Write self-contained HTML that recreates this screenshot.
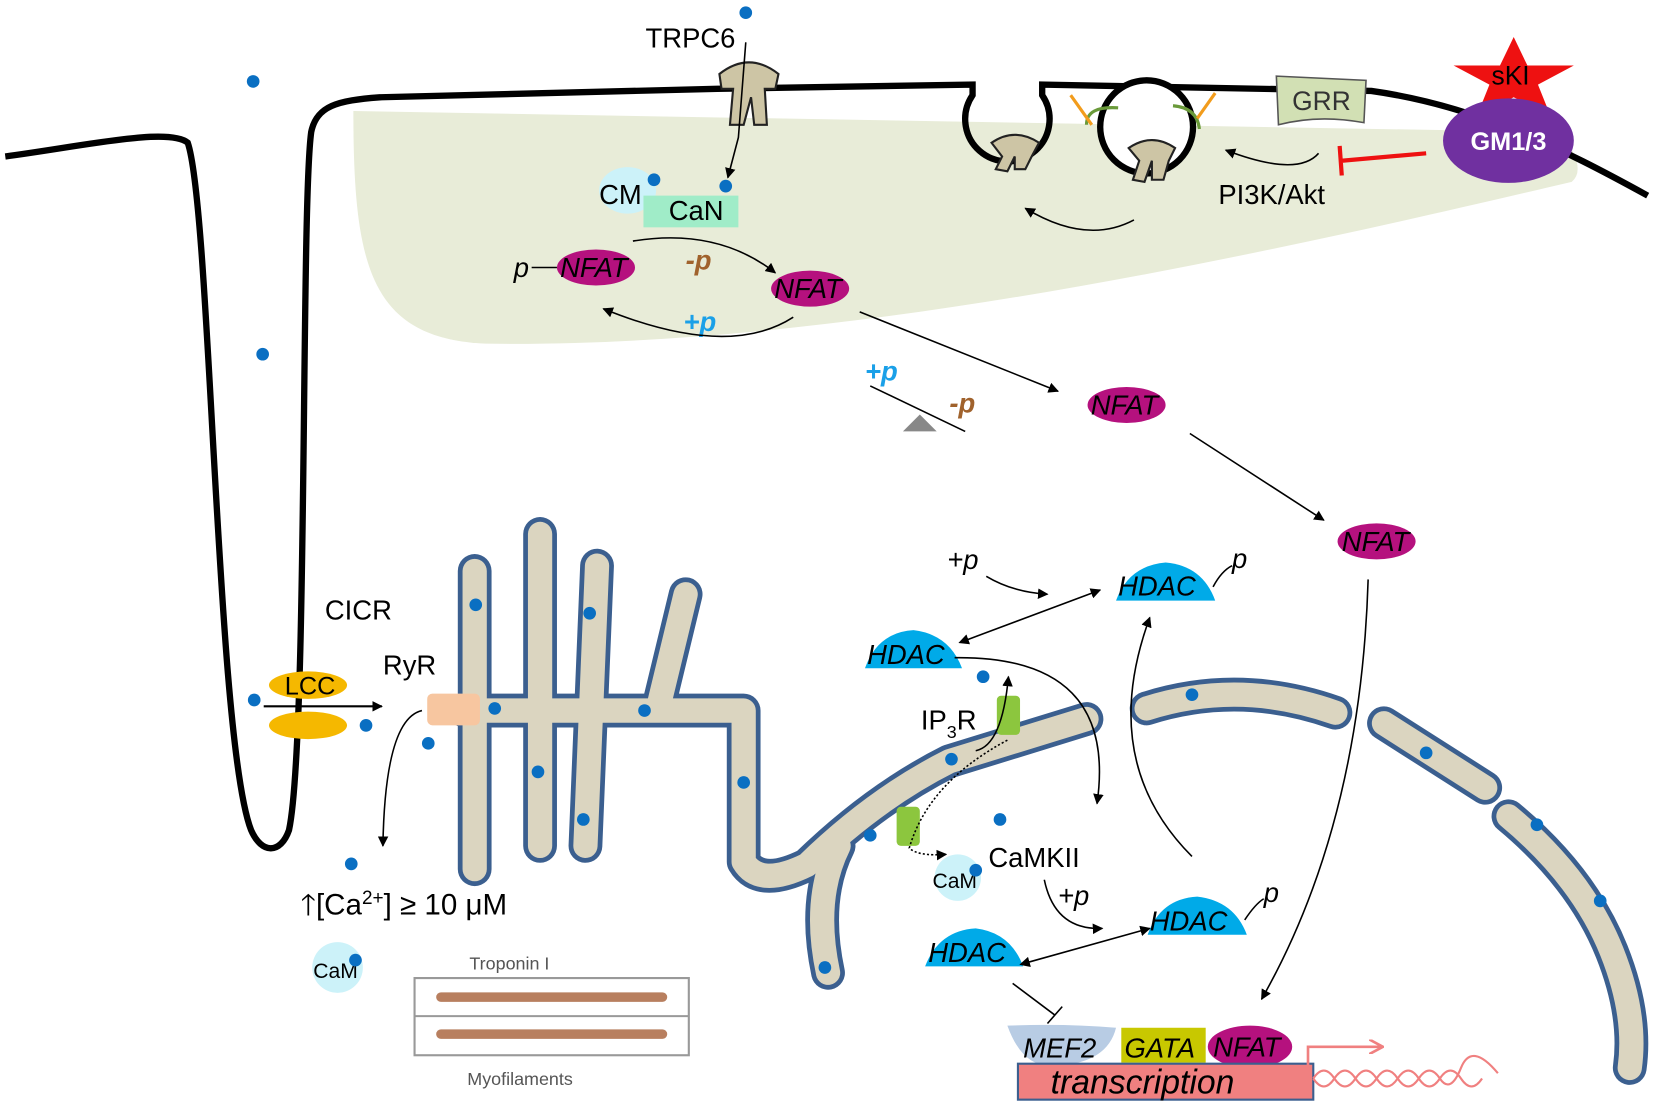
<!DOCTYPE html>
<html><head><meta charset="utf-8"><style>html,body{margin:0;padding:0;background:#fff}svg{display:block}text{font-family:"Liberation Sans",sans-serif}</style></head><body>
<svg width="1654" height="1106" viewBox="0 0 1568 1046" preserveAspectRatio="none" xmlns="http://www.w3.org/2000/svg">
<defs>
<marker id="a" markerWidth="10" markerHeight="10" refX="9" refY="5" orient="auto" markerUnits="userSpaceOnUse"><path d="M0,0 L10,5 L0,10z" fill="#000"/></marker>
<marker id="as" markerWidth="10" markerHeight="10" refX="1" refY="5" orient="auto-start-reverse" markerUnits="userSpaceOnUse"><path d="M0,0 L10,5 L0,10z" fill="#000"/></marker>
<marker id="ap" markerWidth="14" markerHeight="14" refX="12" refY="7" orient="auto" markerUnits="userSpaceOnUse"><path d="M0,0 L13,7 L0,14" fill="none" stroke="#f08080" stroke-width="2.5"/></marker>
</defs>
<!-- cytosol region -->
<path d="M335,105 L1480,125 Q1505,160 1490,172 C1200,240 800,330 460,325 C350,320 335,250 335,105Z" fill="#e8ecd8"/>
<!-- membrane -->
<path d="M5,148 C80,138 160,120 178,135 C200,200 205,700 238,785 C248,808 266,808 274,785 C292,700 285,200 295,125 C300,100 320,95 360,92 L680,84 L922,80 L922,90 A40,40 0 1 0 988,90 L988,80 L1300,86 C1400,100 1480,140 1562,185" fill="none" stroke="#000" stroke-width="6"/>
<circle cx="1087" cy="120" r="44" fill="#fff" stroke="#000" stroke-width="6"/>
<path d="M1030,118 Q1030,100 1060,102 M1112,100 Q1135,102 1137,122" fill="none" stroke="#6a9a3a" stroke-width="3"/>
<path d="M1015,90 L1035,118 M1152,88 L1135,112" stroke="#f29c1c" stroke-width="3"/>
<!-- channels -->
<g fill="#cdc5a5" stroke="#222" stroke-width="2">
<path d="M682,70 Q710,48 738,70 L735,84 L725,84 L727,118 L715,118 L712,92 L705,118 L692,118 L695,84 L684,84Z"/>
<path d="M940,135 Q962,120 985,135 L978,148 L972,160 L962,160 L962,148 L955,162 L944,160 L950,148Z"/>
<path d="M1070,140 Q1092,125 1114,140 L1108,152 L1103,170 L1092,170 L1092,152 L1085,172 L1074,170 L1080,152Z"/>
</g>
<!-- GRR, GM1, sKI -->
<path d="M1210,72 L1295,76 L1293,116 Q1250,108 1212,118Z" fill="#d2e0b4" stroke="#555" stroke-width="1.5"/>
<text x="1225" y="104" font-size="25" fill="#333">GRR</text>
<polygon points="1435,35 1448,62 1492,62 1458,80 1470,110 1435,92 1400,110 1412,80 1378,62 1422,62" fill="#ee1111"/>
<text x="1414" y="80" font-size="25">sKI</text>
<ellipse cx="1430" cy="133" rx="62" ry="40" fill="#7030a0"/>
<text x="1430" y="142" font-size="24" font-weight="bold" fill="#fff" text-anchor="middle">GM1/3</text>
<path d="M1352,145 L1272,152 M1270,138 L1272,166" stroke="#ee1111" stroke-width="4" fill="none"/>
<path d="M1250,145 Q1230,168 1162,142" fill="none" stroke="#000" stroke-width="1.5" marker-end="url(#a)"/>
<text x="1155" y="193" font-size="26">PI3K/Akt</text>
<path d="M1075,208 Q1030,232 972,197" fill="none" stroke="#000" stroke-width="1.5" marker-end="url(#a)"/>
<!-- TRPC6 -->
<text x="612" y="45" font-size="26">TRPC6</text>
<path d="M707,40 L700,130 L690,168" fill="none" stroke="#000" stroke-width="1.5" marker-end="url(#a)"/>
<ellipse cx="595" cy="180" rx="27" ry="22" fill="#ccf2f9"/>
<rect x="610" y="185" width="90" height="30" fill="#a0ecc8"/>
<text x="568" y="193" font-size="26">CM</text>
<text x="634" y="208" font-size="26">CaN</text>
<!-- NFATs -->
<g fill="#b5117e">
<ellipse cx="565" cy="253" rx="37" ry="17"/><ellipse cx="768" cy="273" rx="37" ry="17"/>
<ellipse cx="1068" cy="383" rx="37" ry="17"/><ellipse cx="1305" cy="512" rx="37" ry="17"/>
<ellipse cx="1185" cy="990" rx="40" ry="20"/>
</g>
<g font-size="26" font-style="italic">
<text x="531" y="262">NFAT</text><text x="734" y="282">NFAT</text>
<text x="1034" y="392">NFAT</text><text x="1272" y="521">NFAT</text>
<text x="1150" y="999">NFAT</text>
<text x="487" y="262">p</text>
</g>
<line x1="504" y1="253" x2="528" y2="253" stroke="#000" stroke-width="1.5"/>
<text x="650" y="255" font-size="26" font-style="italic" font-weight="bold" fill="#a0622c">-p</text>
<text x="648" y="313" font-size="26" font-style="italic" font-weight="bold" fill="#1aa0e8">+p</text>
<text x="820" y="360" font-size="26" font-style="italic" font-weight="bold" fill="#1aa0e8">+p</text>
<text x="900" y="390" font-size="26" font-style="italic" font-weight="bold" fill="#a0622c">-p</text>
<line x1="825" y1="365" x2="915" y2="408" stroke="#000" stroke-width="1.5"/>
<polygon points="872,392 856,408 888,408" fill="#888"/>
<g fill="none" stroke="#000" stroke-width="1.5">
<path d="M600,228 Q680,215 735,258" marker-end="url(#a)"/>
<path d="M752,300 Q690,340 572,292" marker-end="url(#a)"/>
<path d="M815,295 L1003,370" marker-end="url(#a)"/>
<path d="M1128,410 L1255,492" marker-end="url(#a)"/>
<path d="M1297,548 Q1290,780 1196,945" marker-end="url(#a)"/>
</g>
<!-- ER tubes -->
<g fill="none" stroke-linecap="round" stroke-linejoin="round">
<g stroke="#3b5f8f" stroke-width="32">
<path d="M450,540 L450,822 M512,505 L512,800 M566,535 L555,800 M650,562 L625,665 M440,672 L705,672 L705,815 Q720,840 765,818 Q830,755 900,720 L1030,680 M795,800 Q770,850 785,920 M1087,670 Q1175,642 1266,674 M1312,684 L1408,745 M1430,772 Q1500,830 1528,900 Q1552,960 1545,1010"/>
</g>
<g stroke="#dbd5c0" stroke-width="23">
<path d="M450,540 L450,822 M512,505 L512,800 M566,535 L555,800 M650,562 L625,665 M440,672 L705,672 L705,815 Q720,840 765,818 Q830,755 900,720 L1030,680 M795,800 Q770,850 785,920 M1087,670 Q1175,642 1266,674 M1312,684 L1408,745 M1430,772 Q1500,830 1528,900 Q1552,960 1545,1010"/>
</g>
</g>
<!-- LCC, RyR -->
<ellipse cx="292" cy="648" rx="37" ry="13" fill="#f5b800"/>
<ellipse cx="292" cy="686" rx="37" ry="13" fill="#f5b800"/>
<text x="270" y="657" font-size="24">LCC</text>
<rect x="405" y="656" width="50" height="30" rx="5" fill="#f7c6a0"/>
<line x1="250" y1="668" x2="362" y2="668" stroke="#000" stroke-width="2" marker-end="url(#a)"/>
<path d="M400,672 Q365,680 363,800" fill="none" stroke="#000" stroke-width="1.5" marker-end="url(#a)"/>
<text x="308" y="586" font-size="26">CICR</text>
<text x="363" y="638" font-size="26">RyR</text>
<text x="285" y="865" font-size="28">🡑[Ca<tspan font-size="18" dy="-10">2+</tspan><tspan dy="10">]  ≥ 10 μM</tspan></text>
<circle cx="320" cy="915" r="24" fill="#ccf2f9"/><text x="297" y="925" font-size="20">CaM</text>
<!-- troponin -->
<rect x="393" y="925" width="260" height="73" fill="#fff" stroke="#999" stroke-width="2"/>
<line x1="393" y1="961" x2="653" y2="961" stroke="#999" stroke-width="2"/>
<line x1="418" y1="943" x2="628" y2="943" stroke="#b87f5f" stroke-width="9" stroke-linecap="round"/>
<line x1="418" y1="978" x2="628" y2="978" stroke="#b87f5f" stroke-width="9" stroke-linecap="round"/>
<text x="445" y="917" font-size="17" fill="#555">Troponin I</text>
<text x="443" y="1026" font-size="17" fill="#555">Myofilaments</text>
<!-- IP3R -->
<rect x="945" y="658" width="22" height="37" rx="4" fill="#8cc63e"/>
<rect x="850" y="763" width="22" height="37" rx="4" fill="#8cc63e"/>
<text x="873" y="690" font-size="26">IP<tspan font-size="17" dy="8">3</tspan><tspan dy="-8">R</tspan></text>
<text x="937" y="820" font-size="26">CaMKII</text>
<circle cx="908" cy="830" r="22" fill="#ccf2f9"/><text x="884" y="840" font-size="20">CaM</text>
<path d="M955,700 Q880,740 862,802 Q870,810 897,808" fill="none" stroke="#000" stroke-width="1.5" stroke-dasharray="2,2" marker-end="url(#a)"/>
<path d="M925,710 Q950,705 956,640" fill="none" stroke="#000" stroke-width="1.5" marker-end="url(#a)"/>
<!-- HDACs -->
<g fill="#00aae8">
<path d="M1058,568 Q1070,535 1105,532 Q1140,535 1152,568Z"/>
<path d="M820,632 Q832,598 866,596 Q900,600 912,632Z"/>
<path d="M1088,884 Q1100,850 1135,848 Q1170,852 1182,884Z"/>
<path d="M877,914 Q890,880 925,878 Q958,882 970,914Z"/>
</g>
<g font-size="26" font-style="italic">
<text x="1060" y="563">HDAC</text><text x="822" y="628">HDAC</text>
<text x="1090" y="880">HDAC</text><text x="880" y="910">HDAC</text>
<text x="1168" y="537">p</text><text x="1198" y="853">p</text>
<text x="898" y="538">+p</text><text x="1003" y="856">+p</text>
</g>
<path d="M1150,555 Q1158,540 1168,535 M1180,870 Q1190,855 1198,850" fill="none" stroke="#000" stroke-width="1.5"/>
<g fill="none" stroke="#000" stroke-width="1.5">
<path d="M935,545 Q960,560 993,562" marker-end="url(#a)"/>
<path d="M917,605 L1043,558" marker-start="url(#as)" marker-end="url(#a)"/>
<path d="M905,622 Q1060,620 1040,760" marker-end="url(#a)"/>
<path d="M1130,810 Q1040,720 1090,584" marker-end="url(#a)"/>
<path d="M990,832 Q1000,880 1045,878" marker-end="url(#a)"/>
<path d="M975,910 L1090,878" marker-start="url(#as)" marker-end="url(#a)"/>
<path d="M960,930 L1000,960 M993,968 L1007,952"/>
</g>
<!-- transcription -->
<path d="M955,970 Q970,1012 1002,1008 Q1050,1005 1058,972 Q1010,968 955,970Z" fill="#b8cce4"/>
<rect x="1063" y="972" width="80" height="33" fill="#c8c800"/>
<text x="970" y="1000" font-size="26" font-style="italic">MEF2</text>
<text x="1066" y="1000" font-size="26" font-style="italic">GATA</text>
<rect x="965" y="1006" width="280" height="34" fill="#f08080" stroke="#3b5f8f" stroke-width="2"/>
<text x="996" y="1034" font-size="32" font-style="italic">transcription</text>
<path d="M1240,1010 L1240,990 L1310,990" fill="none" stroke="#f08080" stroke-width="2.5" marker-end="url(#ap)"/>
<path d="M1245,1020 Q1255,1005 1265,1020 T1285,1020 T1305,1020 T1325,1020 T1345,1020 T1365,1020 T1385,1020 T1405,1020 M1245,1020 Q1255,1035 1265,1020 T1285,1020 T1305,1020 T1325,1020 T1345,1020 T1365,1020 T1385,1010 T1420,1015" fill="none" stroke="#f08080" stroke-width="2"/>
<!-- Ca dots -->
<g fill="#0a6fc2">
<circle cx="707" cy="12" r="6"/><circle cx="240" cy="77" r="6"/><circle cx="249" cy="335" r="6"/>
<circle cx="620" cy="170" r="6"/><circle cx="688" cy="176" r="6"/><circle cx="241" cy="662" r="6"/>
<circle cx="347" cy="686" r="6"/><circle cx="406" cy="703" r="6"/><circle cx="333" cy="817" r="6"/>
<circle cx="451" cy="572" r="6"/><circle cx="559" cy="580" r="6"/><circle cx="611" cy="672" r="6"/>
<circle cx="469" cy="670" r="6"/><circle cx="510" cy="730" r="6"/><circle cx="553" cy="775" r="6"/>
<circle cx="705" cy="740" r="6"/><circle cx="782" cy="915" r="6"/><circle cx="825" cy="790" r="6"/>
<circle cx="902" cy="718" r="6"/><circle cx="932" cy="640" r="6"/><circle cx="948" cy="775" r="6"/>
<circle cx="1130" cy="657" r="6"/><circle cx="1352" cy="712" r="6"/><circle cx="1457" cy="780" r="6"/>
<circle cx="1517" cy="852" r="6"/><circle cx="337" cy="908" r="6"/><circle cx="925" cy="823" r="6"/>
</g>
</svg>
</body></html>
